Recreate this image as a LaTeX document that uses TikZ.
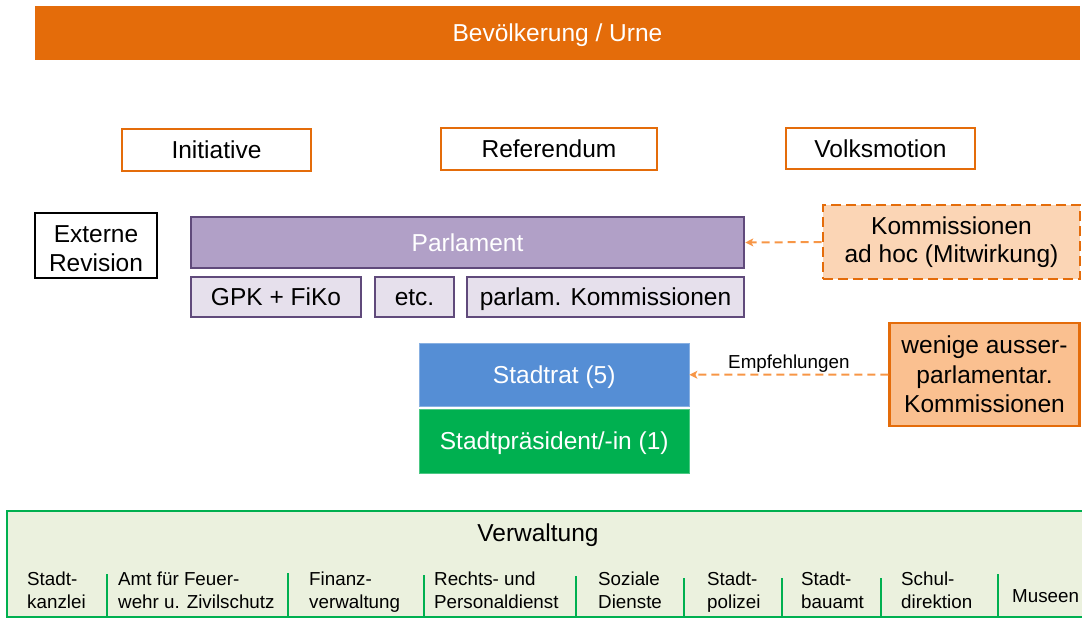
\documentclass[tikz,border=0pt]{standalone}
\usepackage{fontspec}
\setmainfont{Liberation Sans}
\usetikzlibrary{arrows.meta}

\definecolor{urne}{HTML}{E46C0A}
\definecolor{hintorange}{HTML}{F79646}
\definecolor{parlfill}{HTML}{B1A0C7}
\definecolor{parlline}{HTML}{604A7B}
\definecolor{subfill}{HTML}{E6E0EC}
\definecolor{ratblue}{HTML}{558ED5}
\definecolor{praesgreen}{HTML}{00B050}
\definecolor{adhocfill}{HTML}{FBD5B5}
\definecolor{ausserfill}{HTML}{FAC090}
\definecolor{verwfill}{HTML}{EBF1DE}

\tikzset{
  big/.style={font=\fontsize{24.5}{28.5}\selectfont},
  small/.style={font=\fontsize{18.8}{23}\selectfont},
  % one-line labels are centred on the middle of their capitals
  oneline/.style={text height=17.5pt, text depth=0pt},
  plainbox/.style={rectangle, inner sep=0pt, align=center, big},
  votebox/.style={plainbox, oneline, draw=urne, line width=2.6pt, fill=white},
  parlbox/.style={plainbox, oneline, draw=parlline, line width=2.6pt, fill=parlfill, text=white},
  subbox/.style={plainbox, oneline, draw=parlline, line width=2.6pt, fill=subfill},
  revbox/.style={plainbox, draw=black, line width=2pt, fill=white},
  adhocbox/.style={plainbox, draw=urne, line width=2.8pt, dash pattern=on 10pt off 5pt, fill=adhocfill},
  ausserbox/.style={plainbox, draw=urne, line width=2.4pt, fill=ausserfill},
  ratbox/.style={plainbox, oneline, draw=ratblue!70!white, line width=0.8pt, fill=ratblue, text=white},
  praesbox/.style={plainbox, oneline, draw=praesgreen!70!white, line width=0.8pt, fill=praesgreen, text=white},
  hint/.style={draw=hintorange, line width=2pt, dash pattern=on 8pt off 5pt,
    -{Stealth[length=8pt, width=8pt, inset=2pt]}},
  sepline/.style={draw=praesgreen, line width=2.4pt},
  unitlabel/.style={anchor=base west, inner sep=0pt, small},
}

\begin{document}
\begin{tikzpicture}[x=1pt, y=-1pt]
\useasboundingbox (0,0) rectangle (1082,618);

% electorate
\node[plainbox, oneline, fill=urne, text=white, minimum width=1045pt, minimum height=54pt]
  (urne) at (557.5,33) {Bevölkerung / Urne};

% instruments of direct democracy
\node[votebox, minimum width=189pt, minimum height=42pt] (init) at (216.5,150) {Initiative};
\node[votebox, minimum width=216pt, minimum height=42pt] (ref) at (549,149) {Referendum};
\node[votebox, minimum width=189pt, minimum height=41pt] (volk) at (880.5,148.5) {Volksmotion};

% parliament and its committees
\node[revbox, minimum width=122pt, minimum height=65pt] (extrev) at (96,245.5)
  {\rule{0pt}{23.5pt}Externe\\Revision};
\node[parlbox, minimum width=553pt, minimum height=51pt] (parl) at (467.5,242.5) {Parlament};
\node[subbox, minimum width=170pt, minimum height=40pt] (gpk) at (276,297) {GPK + FiKo};
\node[subbox, minimum width=79pt, minimum height=40pt] (etc) at (414.5,297) {etc.};
\node[subbox, minimum width=277pt, minimum height=40pt] (pkom) at (605.5,297) {parlam. Kommissionen};
\node[adhocbox, minimum width=257pt, minimum height=74pt] (adhoc) at (951.5,242) {Kommissionen\\ad hoc (Mitwirkung)};

% executive
\node[ratbox, minimum width=269.5pt, minimum height=63.5pt] (rat) at (554.25,374.75) {Stadtrat (5)};
\node[praesbox, minimum width=269.5pt, minimum height=64pt] (praes) at (554.25,441) {Stadtpräsident/-in (1)};
\node[ausserbox, minimum width=190pt, minimum height=103pt, font=\fontsize{24.5}{29.5}\selectfont]
  (ausser) at (984.5,374.5) {wenige ausser-\\parlamentar.\\Kommissionen};

% advisory links
\draw[hint] (adhoc.west) -- (parl.east);
\draw[hint] (ausser.west) -- (rat.east)
  node[midway, above, inner sep=1.5pt, small] (empf) {Empfehlungen};

% administration
\begin{scope}
\clip (0,0) rectangle (1082,618);
\node[rectangle, draw=praesgreen, line width=2.6pt, fill=verwfill, inner sep=0pt,
  minimum width=1090pt, minimum height=106pt] (verw) at (552,564) {};
\node[big, oneline, inner sep=0pt] (verwtitle) at (538,533) {Verwaltung};

\foreach \x/\top in {107/574, 288/573, 424/575, 576/576, 684/578, 782/578, 881/578, 998/574}
  \draw[sepline] (\x,\top) -- (\x,620);

\node[unitlabel] (u1) at (27,585) {\begin{tabular}[t]{@{}l@{}}Stadt-\\kanzlei\end{tabular}};
\node[unitlabel] (u2) at (118,585) {\begin{tabular}[t]{@{}l@{}}Amt für Feuer-\\wehr u. Zivilschutz\end{tabular}};
\node[unitlabel] (u3) at (309,585) {\begin{tabular}[t]{@{}l@{}}Finanz-\\verwaltung\end{tabular}};
\node[unitlabel] (u4) at (434,585) {\begin{tabular}[t]{@{}l@{}}Rechts- und\\Personaldienst\end{tabular}};
\node[unitlabel] (u5) at (598,585) {\begin{tabular}[t]{@{}l@{}}Soziale\\Dienste\end{tabular}};
\node[unitlabel] (u6) at (707,585) {\begin{tabular}[t]{@{}l@{}}Stadt-\\polizei\end{tabular}};
\node[unitlabel] (u7) at (801,585) {\begin{tabular}[t]{@{}l@{}}Stadt-\\bauamt\end{tabular}};
\node[unitlabel] (u8) at (901,585) {\begin{tabular}[t]{@{}l@{}}Schul-\\direktion\end{tabular}};
\node[unitlabel] (u9) at (1012,602) {Museen};
\end{scope}
\end{tikzpicture}
\end{document}
